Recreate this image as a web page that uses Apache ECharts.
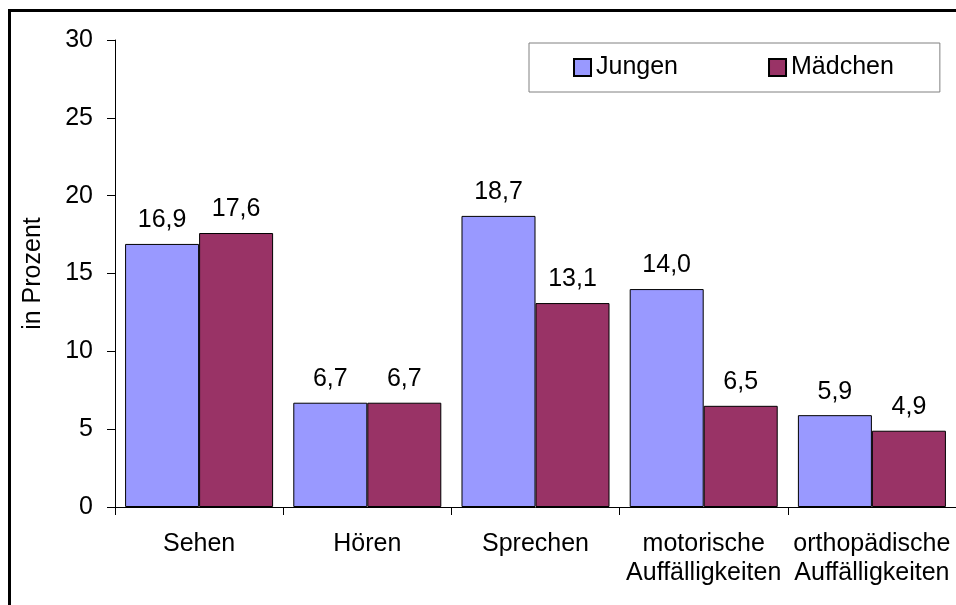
<!DOCTYPE html>
<html>
<head>
<meta charset="utf-8">
<script src="https://cdn.jsdelivr.net/npm/echarts@6/dist/echarts.min.js"></script>
<style>
  html, body { margin: 0; padding: 0; background: #fff; }
  #chart { width: 956px; height: 605px; }
</style>
</head>
<body>
<div id="chart"></div>
<script>
// Auffälligkeiten nach Geschlecht, Anteile in Prozent
const categories = ['Sehen', 'Hören', 'Sprechen', 'motorische\nAuffälligkeiten', 'orthopädische\nAuffälligkeiten'];
const jungen = [16.9, 6.7, 18.7, 14.0, 5.9];
const maedchen = [17.6, 6.7, 13.1, 6.5, 4.9];
const yTicks = { min: 0, max: 30, interval: 5 };

const FONT = '"Liberation Sans", Arial, sans-serif';
const FS = 25;

const fmt = p => p.value.toFixed(1).replace('.', ',');

const chart = echarts.init(document.getElementById('chart'), null, { renderer: 'canvas' });

chart.setOption({
  animation: false,
  backgroundColor: '#fff',
  textStyle: { fontFamily: FONT, color: '#000' },
  grid: { left: 115, top: 40, bottom: 98, right: -4, containLabel: false },
  legend: {
    left: 529, top: 43,
    padding: [12, 46, 12, 44],
    itemGap: 90,
    itemWidth: 17, itemHeight: 17,
    itemTextGap: 6,
    borderColor: '#808080', borderWidth: 1,
    textStyle: { fontFamily: FONT, fontSize: FS, color: '#000' },
    icon: 'rect',
    data: ['Jungen', 'Mädchen']
  },
  xAxis: {
    type: 'category',
    data: categories,
    axisLine: { lineStyle: { color: '#000', width: 1 } },
    axisTick: { show: true, length: 8, lineStyle: { color: '#000' } },
    axisLabel: { color: '#000', fontFamily: FONT, fontSize: FS, lineHeight: 29, margin: 23, interval: 0 }
  },
  yAxis: {
    type: 'value',
    min: yTicks.min, max: yTicks.max, interval: yTicks.interval,
    name: 'in Prozent',
    nameLocation: 'middle',
    nameGap: 69,
    nameRotate: 90,
    nameTextStyle: { color: '#000', fontFamily: FONT, fontSize: FS },
    axisLine: { show: true, lineStyle: { color: '#000', width: 1 } },
    axisTick: { show: true, length: 8, lineStyle: { color: '#000' } },
    splitLine: { show: false },
    axisLabel: { color: '#000', fontFamily: FONT, fontSize: FS, margin: 22 }
  },
  series: [
    {
      name: 'Jungen', type: 'bar', data: jungen,
      barGap: '0%', barCategoryGap: '12%',
      itemStyle: { color: '#9999FF', borderColor: '#000', borderWidth: 1 },
      label: { show: true, position: 'top', distance: 11, formatter: fmt,
               color: '#000', fontFamily: FONT, fontSize: FS }
    },
    {
      name: 'Mädchen', type: 'bar', data: maedchen,
      barGap: '0%', barCategoryGap: '12%',
      itemStyle: { color: '#993366', borderColor: '#000', borderWidth: 1 },
      label: { show: true, position: 'top', distance: 11, formatter: fmt,
               color: '#000', fontFamily: FONT, fontSize: FS }
    }
  ],
  graphic: [
    {
      type: 'rect', silent: true, z: 100,
      shape: { x: 9.5, y: 10.5, width: 2000, height: 2000 },
      style: { fill: 'none', stroke: '#000', lineWidth: 3 }
    }
  ]
});
</script>
</body>
</html>
